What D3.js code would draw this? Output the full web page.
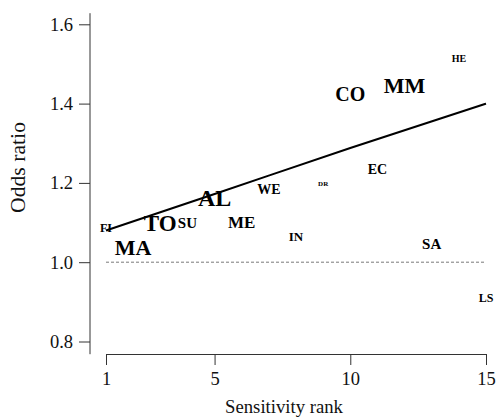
<!DOCTYPE html>
<html>
<head>
<meta charset="utf-8">
<script src="https://cdn.jsdelivr.net/npm/d3@7"></script>
</head>
<body style="margin:0;background:#fff">
<div id="chart"></div>
<script>
// study labels placed at (rank, odds ratio); weight drives label size
const studies = ['FI', 'MA', 'TO', 'SU', 'AL', 'ME', 'WE', 'IN', 'DR', 'CO', 'EC', 'MM', 'SA', 'HE', 'LS'];
const ranks   = [1, 2, 3, 4, 5, 6, 7, 8, 9, 10, 11, 12, 13, 14, 15];
const odds    = [1.085, 1.036, 1.098, 1.099, 1.163, 1.10, 1.183, 1.064, 1.197, 1.425, 1.235, 1.446, 1.047, 1.514, 0.91];
const weights = [12, 22, 23, 15, 24, 17, 14, 13, 7, 20, 14, 22, 15, 10, 12];

// fitted trend
const fitRank = [1, 5, 10, 15];
const fitOdds = [1.08, 1.172, 1.288, 1.40];

const xTicks = [1, 5, 10, 15];
const yTicks = [0.8, 1.0, 1.2, 1.4, 1.6];

const W = 496, H = 419;
const FONT = 'Liberation Serif';

const svg = d3.select('#chart').append('svg')
  .attr('width', W).attr('height', H)
  .attr('font-family', FONT);

const x = d3.scaleLinear().domain([1, 15]).range([106, 486]);
const y = d3.scaleLinear().domain([0.8, 1.6]).range([341.5, 24.3]);

// y axis, line spans the plotting region
const yAxis = svg.append('g').attr('transform', 'translate(90,0)')
  .call(d3.axisLeft(y).tickValues(yTicks).tickFormat(d3.format('.1f')).tickSize(11).tickSizeOuter(0).tickPadding(6));
yAxis.select('.domain').attr('d', `M0,${y(1.628)}V${y(0.768)}`);

const xAxis = svg.append('g').attr('transform', 'translate(0,354)')
  .call(d3.axisBottom(x).tickValues(xTicks).tickSize(11).tickSizeOuter(0).tickPadding(7));

svg.selectAll('g').attr('font-family', FONT).attr('font-size', 18.5);
svg.selectAll('.tick line, .domain').attr('stroke', '#333');
svg.selectAll('.tick text').attr('fill', '#111');

// reference line at OR = 1
svg.append('line')
  .attr('x1', x(1)).attr('x2', x(15))
  .attr('y1', y(1)).attr('y2', y(1))
  .attr('stroke', '#555').attr('stroke-width', 0.8)
  .attr('stroke-dasharray', '3,2');

// trend line
const line = d3.line().x(d => x(d[0])).y(d => y(d[1])).curve(d3.curveMonotoneX);
svg.append('path')
  .datum(fitRank.map((r, i) => [r, fitOdds[i]]))
  .attr('d', line)
  .attr('fill', 'none').attr('stroke', '#000').attr('stroke-width', 2);

// labels
const size = d3.scaleLinear().domain([0, 24]).range([0, 24]);
svg.append('g').selectAll('text')
  .data(studies.map((s, i) => ({ s, r: ranks[i], o: odds[i], w: weights[i] })))
  .join('text')
  .attr('x', d => x(d.r))
  .attr('y', d => y(d.o))
  .attr('text-anchor', 'middle')
  .attr('dominant-baseline', 'central')
  .attr('font-family', FONT)
  .attr('font-weight', 'bold')
  .attr('font-size', d => size(d.w))
  .text(d => d.s);

// axis titles
svg.append('text')
  .attr('x', 284).attr('y', 413)
  .attr('text-anchor', 'middle')
  .attr('font-family', FONT)
  .attr('font-size', 18.7)
  .attr('fill', '#111')
  .text('Sensitivity rank');

svg.append('text')
  .attr('transform', 'translate(25,167.5) rotate(-90)')
  .attr('text-anchor', 'middle')
  .attr('font-family', FONT)
  .attr('font-size', 20)
  .attr('textLength', 91)
  .attr('lengthAdjust', 'spacingAndGlyphs')
  .attr('fill', '#111')
  .text('Odds ratio');
</script>
</body>
</html>
